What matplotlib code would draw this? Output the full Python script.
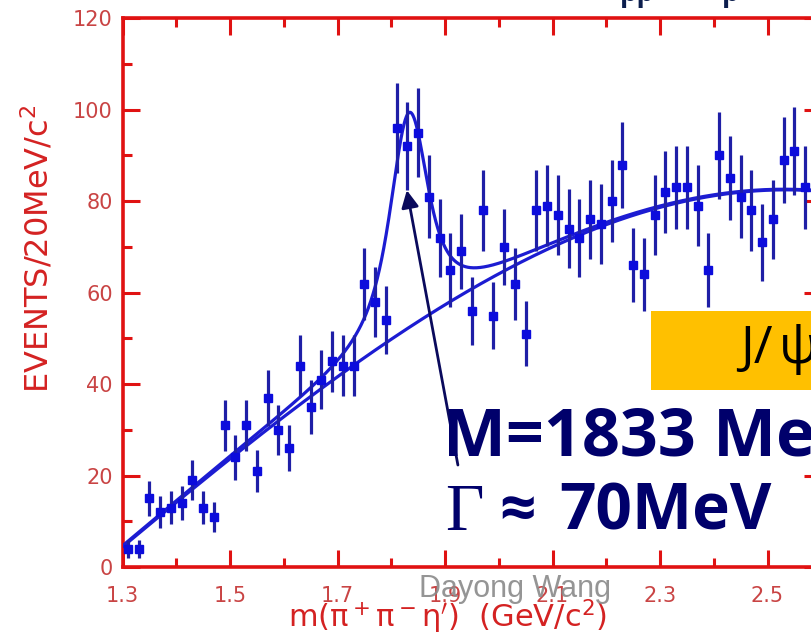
import numpy as np
import matplotlib
matplotlib.use("Agg")
import matplotlib.pyplot as plt
from matplotlib.patches import Rectangle
from matplotlib.ticker import MultipleLocator

plt.rcParams["font.family"] = ["DejaVu Sans"]
plt.rcParams["mathtext.fontset"] = "dejavusans"

# ---- histogram: m(pi+ pi- eta') in 20 MeV bins starting at 1.30 GeV ----
bin_start = 1.30
bin_width = 0.020
counts = [4, 4, 15, 12, 13, 14, 19, 13, 11, 31,
          24, 31, 21, 37, 30, 26, 44, 35, 41, 45,
          44, 44, 62, 58, 54, 96, 92, 95, 81, 72,
          65, 69, 56, 78, 55, 70, 62, 51, 78, 79,
          77, 74, 72, 76, 75, 80, 88, 66, 64, 77,
          82, 83, 83, 79, 65, 90, 85, 81, 78, 71,
          76, 89, 91, 83]

# ---- fit: cubic background in (m - 1.3) plus a resonance ----
bkg_coef = [4.4, 98.0, -5.0, -18.75]
res_mass = 1.833      # GeV
res_width = 0.070     # GeV
res_sigma = 0.015     # detector resolution, GeV
res_height = 47.0     # events / 20 MeV at the peak

x_ticks = [1.3, 1.5, 1.7, 1.9, 2.1, 2.3, 2.5]
y_ticks = [0, 20, 40, 60, 80, 100, 120]

counts = np.asarray(counts, dtype=float)
centres = bin_start + bin_width * (np.arange(len(counts)) + 0.5)
errors = np.sqrt(counts)

m = np.arange(1.1, 2.8, 0.0005)
t = m - 1.3
background = sum(c * t**k for k, c in enumerate(bkg_coef))
bw = (res_width / 2) ** 2 / ((m - res_mass) ** 2 + (res_width / 2) ** 2)
k = np.arange(-0.08, 0.08 + 1e-9, 0.0005)
kernel = np.exp(-0.5 * (k / res_sigma) ** 2)
signal = np.convolve(bw, kernel, mode="same")
signal = res_height * signal / signal.max()
total = background + signal
sel = (m >= 1.3) & (m <= 2.6)

W, H = 811, 643
fig = plt.figure(figsize=(W / 100, H / 100), dpi=100)
fig.patch.set_facecolor("white")


def fxy(x, y):
    return x / W, 1 - y / H


ax = fig.add_axes([122.5 / W, 76 / H, 698.75 / W, 548.7 / H])
ax.set_xlim(1.3, 2.6)
ax.set_ylim(0, 120)

red = "#e01212"
ax.plot(m[sel], background[sel], color="#1c1cd2", lw=2.3, zorder=3)
ax.plot(m[sel], total[sel], color="#1c1cd2", lw=2.3, zorder=3)
ax.errorbar(centres, counts, yerr=errors, fmt="s", ms=6.3,
            mfc="#0c0cdc", mec="#0c0cdc", ecolor="#1f1fa6",
            elinewidth=2.3, capsize=0, zorder=4, clip_on=True)

for s in ax.spines.values():
    s.set_color(red)
    s.set_linewidth(2.6)

ax.set_xticks(x_ticks)
ax.set_yticks(y_ticks)
ax.xaxis.set_minor_locator(MultipleLocator(0.1))
ax.yaxis.set_minor_locator(MultipleLocator(10))
ax.tick_params(which="both", direction="in", top=True, right=True,
               color=red, width=2.2, labelcolor="#c94444", labelsize=15)
ax.tick_params(which="major", length=12)
ax.tick_params(which="minor", length=6.5)
ax.tick_params(axis="y", pad=7)
ax.tick_params(axis="x", pad=14)
ax.set_xticklabels([f"{v:.1f}" for v in x_ticks])
ax.set_yticklabels([str(v) for v in y_ticks])

ax.set_xlabel("m(π$^+$π$^-$η$^\\prime$)  (GeV/c$^2$)", fontsize=22, color="#d42222")
ax.xaxis.set_label_coords((447 - 122.5) / 698.75, (567 - 598) / 548.7)
ax.set_ylabel("EVENTS/20MeV/c$^2$", fontsize=23, color="#d42222")
ax.yaxis.label.set_va("center")
ax.yaxis.set_label_coords((38 - 122.5) / 698.75, (567 - 249) / 548.7)

# arrow pointing at the peak
ax.annotate("", xy=(1.829, 82.4), xytext=(1.924, 22.3),
            arrowprops=dict(arrowstyle="-|>", color="#0a0a5c", lw=2.0,
                            mutation_scale=26, shrinkA=0, shrinkB=0),
            annotation_clip=False, zorder=6)

navy = "#00006b"
bold_fam = ["Open Sans", "DejaVu Sans"]
fig.text(*fxy(443, 455), "M=1833 MeV", fontsize=48, fontweight="bold",
         family=bold_fam, color=navy, ha="left", va="baseline")
fig.text(*fxy(445, 530), "Γ", fontsize=48, family=["Liberation Serif", "DejaVu Serif"],
         color=navy, ha="left", va="baseline")
fig.text(*fxy(499, 530), "≈", fontsize=46, fontweight="bold",
         family=bold_fam, color=navy, ha="left", va="baseline")
fig.text(*fxy(559, 530), "70MeV", fontsize=46, fontweight="bold",
         family=bold_fam, color=navy, ha="left", va="baseline")

# decay-channel label box
x0, y0 = fxy(651, 390)
fig.add_artist(Rectangle((x0, y0), 1.0 - x0 + 0.01, 79 / H,
                         transform=fig.transFigure, facecolor="#ffc000",
                         edgecolor="none", zorder=5))
box_font = ["Open Sans", "DejaVu Sans"]
fig.text(*fxy(740, 363), "J/", fontsize=37, family=box_font,
         color="black", ha="left", va="baseline", zorder=6)
fig.text(*fxy(779, 363), "ψ", fontsize=37, family=box_font,
         color="black", ha="left", va="baseline", zorder=6)

# fragments of the heading above
fig.text(*fxy(620, 1), "pp", fontsize=20, fontweight="bold", family=bold_fam,
         color="#0b1d4d", ha="left", va="baseline")
fig.text(*fxy(722, 1), "p", fontsize=20, fontweight="bold", family=bold_fam,
         color="#0b1d4d", ha="left", va="baseline")

fig.text(*fxy(419, 597), "Dayong Wang", fontsize=22,
         family=["Liberation Sans Narrow", "Liberation Sans", "DejaVu Sans"],
         color="#8a8a8a", alpha=0.9, ha="left", va="baseline", zorder=7)

fig.savefig("out.png", dpi=100)
